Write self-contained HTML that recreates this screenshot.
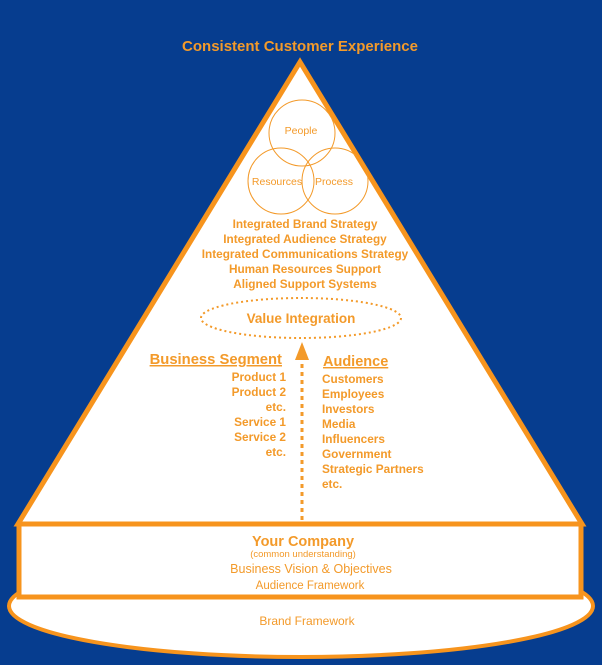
<!DOCTYPE html>
<html><head><style>body{margin:0;background:#063d8f}svg{display:block}text{font-family:"Liberation Sans",sans-serif;fill:#f39a2a}</style></head><body>
<svg width="602" height="665" viewBox="0 0 602 665">
<rect width="602" height="665" fill="#063d8f"/>
<ellipse cx="301" cy="606" rx="292" ry="51" fill="#fff" stroke="#f7941d" stroke-width="4"/>
<polygon points="300,62 18,524 582,524" fill="#fff" stroke="#f7941d" stroke-width="5" stroke-linejoin="miter"/>
<rect x="19" y="524" width="562" height="73" fill="#fff" stroke="#f7941d" stroke-width="5"/>
<text x="300" y="51" text-anchor="middle" font-size="15" font-weight="bold">Consistent Customer Experience</text>
<g fill="none" stroke="#f39a2a" stroke-width="1">
<circle cx="302" cy="133" r="33"/><circle cx="281" cy="181" r="33"/><circle cx="335" cy="181" r="33"/>
</g>
<text x="301" y="134" text-anchor="middle" font-size="10.5">People</text>
<text x="277" y="185" text-anchor="middle" font-size="10.5">Resources</text>
<text x="334" y="185" text-anchor="middle" font-size="10.5">Process</text>
<g font-size="11.8" font-weight="bold" text-anchor="middle">
<text x="305" y="228">Integrated Brand Strategy</text>
<text x="305" y="243">Integrated Audience Strategy</text>
<text x="305" y="258">Integrated Communications Strategy</text>
<text x="305" y="273">Human Resources Support</text>
<text x="305" y="288">Aligned Support Systems</text>
</g>
<ellipse cx="301" cy="318" rx="100" ry="20" fill="none" stroke="#f39a2a" stroke-width="2" stroke-dasharray="2,3"/>
<text x="301" y="323" text-anchor="middle" font-size="13.5" font-weight="bold">Value Integration</text>
<line x1="302" y1="520" x2="302" y2="358" stroke="#f39a2a" stroke-width="3" stroke-dasharray="4,4"/>
<polygon points="302,342 295,360 309,360" fill="#f39a2a"/>
<text x="282" y="364" text-anchor="end" font-size="14.8" font-weight="bold" text-decoration="underline">Business Segment</text>
<g font-size="11.8" font-weight="bold" text-anchor="end">
<text x="286" y="381">Product 1</text><text x="286" y="396">Product 2</text><text x="286" y="411">etc.</text>
<text x="286" y="426">Service 1</text><text x="286" y="441">Service 2</text><text x="286" y="456">etc.</text>
</g>
<text x="323" y="366" font-size="14.5" font-weight="bold" text-decoration="underline">Audience</text>
<g font-size="11.8" font-weight="bold">
<text x="322" y="383">Customers</text><text x="322" y="398">Employees</text><text x="322" y="413">Investors</text>
<text x="322" y="428">Media</text><text x="322" y="443">Influencers</text><text x="322" y="458">Government</text>
<text x="322" y="473">Strategic Partners</text><text x="322" y="488">etc.</text>
</g>
<text x="303" y="546" text-anchor="middle" font-size="14.5" font-weight="bold">Your Company</text>
<text x="303" y="557" text-anchor="middle" font-size="9.5">(common understanding)</text>
<text x="311" y="573" text-anchor="middle" font-size="12.5">Business Vision &amp; Objectives</text>
<text x="310" y="589" text-anchor="middle" font-size="11.5">Audience Framework</text>
<text x="307" y="625" text-anchor="middle" font-size="12">Brand Framework</text>
</svg>
</body></html>
